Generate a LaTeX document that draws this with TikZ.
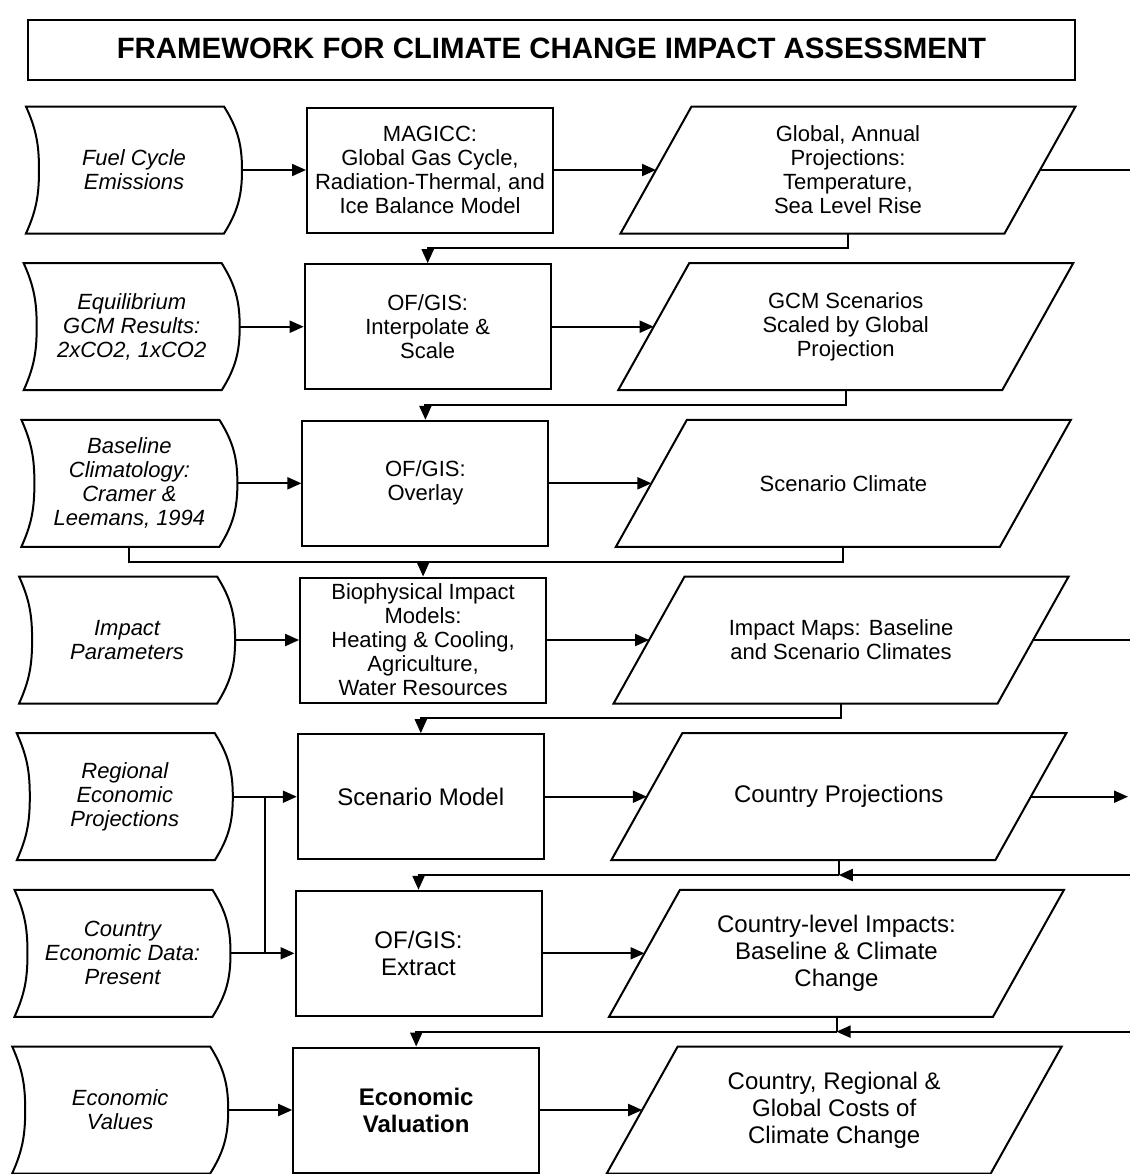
\documentclass[tikz,border=0pt]{standalone}
\usepackage{fontspec}
\setmainfont{Liberation Sans}
\usetikzlibrary{arrows.meta,calc}

\begin{document}
\begin{tikzpicture}[>={Triangle[length=7pt,width=6pt]},line width=1pt,x=0.5pt,y=0.5pt,
	base/.style={minimum height=62.5pt,inner sep=0pt,align=center,font=\fontsize{11}{12}\selectfont},
	store/.style={base,minimum width=107pt,font=\fontsize{11}{12}\selectfont\itshape},
	box/.style={base,draw,minimum width=123pt},
	para/.style={base,minimum width=191pt},
	big/.style={font=\fontsize{12}{13.5}\selectfont}]

\def\stored#1{
	\draw (#1.south west) to[out=66,in=-90] ([xshift=6.5pt]#1.west) to[out=90,in=-66] (#1.north west)
		-- ([xshift=-9pt]#1.north east) to[out=-58,in=90] (#1.east)
		to[out=-90,in=58] ([xshift=-9pt]#1.south east) -- cycle;
}
\def\slanted#1{
	\draw ([xshift=-17.75pt]#1.south west) -- ([xshift=17.75pt]#1.north west)
		-- ([xshift=17.75pt]#1.north east) -- ([xshift=-17.75pt]#1.south east) -- cycle;
}

\clip (0,0) rectangle (1130,-1174);
\coordinate (rr) at (1130,0);
\coordinate (rt) at (1128,0);

\node[draw,minimum width=523.5pt,minimum height=30pt,font=\fontsize{14.7}{16}\selectfont\bfseries]
	(t) at (551.5,-50) {\raisebox{1.5pt}{FRAMEWORK FOR CLIMATE CHANGE IMPACT ASSESSMENT}};

% row 1
\node[store] (d1) at (134,-170) {Fuel Cycle\\Emissions};
\node[box] (b1) at (430,-170) {MAGICC:\\Global Gas Cycle,\\Radiation-Thermal, and\\Ice Balance Model};
\node[para] (p1) at (848,-170) {Global, Annual\\Projections:\\Temperature,\\Sea Level Rise};

% row 2
\node[store] (d2) at (131.7,-326.7) {Equilibrium\\GCM Results:\\2xCO2, 1xCO2};
\node[box] (b2) at (427.7,-326.7) {OF/GIS:\\Interpolate \&\\Scale};
\node[para] (p2) at (845.7,-326.7) {GCM Scenarios\\Scaled by Global\\Projection};

% row 3
\node[store] (d3) at (129.4,-483.3) {Baseline\\Climatology:\\Cramer \&\\Leemans, 1994};
\node[box] (b3) at (425.4,-483.3) {OF/GIS:\\Overlay};
\node[para] (p3) at (843.4,-483.3) {Scenario Climate};

% row 4
\node[store] (d4) at (127.1,-640) {Impact\\Parameters};
\node[box] (b4) at (423.1,-640) {Biophysical Impact\\Models:\\Heating \& Cooling,\\Agriculture,\\Water Resources};
\node[para] (p4) at (841.1,-640) {Impact Maps: Baseline\\and Scenario Climates};

% row 5
\node[store] (d5) at (124.8,-796.7) {Regional\\Economic\\Projections};
\node[box,big] (b5) at (420.8,-796.7) {Scenario Model};
\node[para,big] (p5) at (838.8,-796.7) {Country Projections};

% row 6
\node[store] (d6) at (122.5,-953.3) {Country\\Economic Data:\\Present};
\node[box,big] (b6) at (418.5,-953.3) {OF/GIS:\\Extract};
\node[para,big] (p6) at (836.5,-953.3) {Country-level Impacts:\\Baseline \& Climate\\Change};

% row 7
\node[store] (d7) at (120.2,-1110) {Economic\\Values};
\node[box,font=\fontsize{12}{13.5}\selectfont\bfseries] (b7) at (416.2,-1110) {Economic\\Valuation};
\node[para,big] (p7) at (834.2,-1110) {Country, Regional \&\\Global Costs of\\Climate Change};

\foreach \i in {1,...,7}{
	\stored{d\i}
	\slanted{p\i}
	\draw[->] (d\i) -- (b\i);
	\draw[->] (b\i) -- (p\i);
}
\foreach \i [evaluate=\i as \j using int(\i+1)] in {1,...,6}{
	\path (b\i.south) -- coordinate (m\i) (b\j.north);
}

% links between rows
\draw[->] (p1.south) |- (m1) -| (b2.north);
\draw[->] (p2.south) |- (m2) -| (b3.north);
\draw (d3.south) |- (m3) -| (p3.south);
\draw[->] (m3 -| b4.north) -- (b4.north);
\draw[->] (p4.south) |- (m4) -| (b5.north);
\draw (p5.south) -- (p5.south |- m5);
\draw[->] (m5 -| rr) -- (p5.south |- m5);
\draw[->] (p5.south |- m5) -| (b6.north);
\draw (p6.south) -- (p6.south |- m6);
\draw[->] (m6 -| rr) -- (p6.south |- m6);
\draw[->] (p6.south |- m6) -| (b7.north);

% shared input
\path (d5.east) -- coordinate (k5) (b5.west);
\draw (k5) -- (k5 |- d6.east);

% off to the right
\draw (p1.east) -- (p1.east -| rr);
\draw (p4.east) -- (p4.east -| rr);
\draw[->] (p5.east) -- (p5.east -| rt);

\end{tikzpicture}
\end{document}
